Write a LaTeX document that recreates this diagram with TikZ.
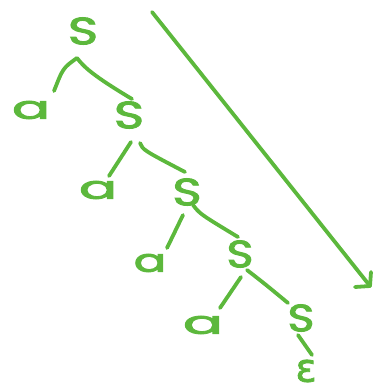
\documentclass[tikz,border=0pt]{standalone}
\usepackage{graphicx}
\usepackage{fontspec}
\setmainfont{Poppins}
\newfontfamily\penfont[FakeBold=2.5]{Poppins}
\newfontfamily\epsfont[FakeBold=2]{DejaVu Sans}
\usetikzlibrary{calc}
\definecolor{pen}{RGB}{92,184,60}
\begin{document}
\begin{tikzpicture}[x=1pt,y=-1pt,
  sym/.style={inner sep=0pt, text=pen, font=\fontsize{38}{38}\penfont},
  asym/.style={inner sep=0pt, text=pen, font=\fontsize{32}{32}\penfont},
  esym/.style={inner sep=0pt, text=pen, font=\fontsize{30}{30}\epsfont},
  ink/.style={draw=pen, line width=3.8pt, line cap=round, line join=round}]
\useasboundingbox (0,0) rectangle (373,389);
% symbols
\node[sym]  (S1) at (83,31)   {\scalebox{1.35}[1]{S}};
\node[asym] (a1) at (31,110)  {\scalebox{1.75}[1]{a}};
\node[sym]  (S2) at (129,115) {\scalebox{1.35}[1]{S}};
\node[asym] (a2) at (98,190)  {\scalebox{1.75}[1]{a}};
\node[sym]  (S3) at (187,192) {\scalebox{1.3}[1]{S}};
\node[asym] (a3) at (150,263) {\scalebox{1.5}[1]{a}};
\node[sym]  (S4) at (240,254) {\scalebox{1.2}[1]{S}};
\node[asym] (a4) at (203,325) {\scalebox{1.85}[1]{a}};
\node[sym]  (S5) at (301,318) {\scalebox{1.2}[1]{S}};
\node[esym] (E)  at (306,371) {\scalebox{1.3}[1.3]{ε}};
% connectors
\draw[ink] ($(S1)+(-29,60)$) .. controls ($(S1)+(-20,37)$) .. ($(S1)+(-6,27)$)
           .. controls ($(S1)+(1,36)$) and ($(S1)+(9,44)$) .. ($(S1)+(49,68)$);
\draw[ink] ($(S2)+(2,27)$) -- ($(S2)+(-20,61)$);
\draw[ink] ($(S2)+(11,28)$) .. controls ($(S2)+(14,35)$) .. ($(S2)+(56,57)$);
\draw[ink] ($(S3)+(-4,23)$) -- ($(S3)+(-20,56)$);
\draw[ink] ($(S3)+(6,13)$) .. controls ($(S3)+(13,22)$) .. ($(S3)+(51,45)$);
\draw[ink] ($(S4)+(1,23)$) -- ($(S4)+(-20,54)$);
\draw[ink] ($(S4)+(7,16)$) .. controls ($(S4)+(25,30)$) .. ($(S4)+(48,49)$);
\draw[ink] ($(S5)+(-3,17)$) -- ($(S5)+(11,37)$);
% long arrow
\coordinate (arrowstart) at (152,12);
\coordinate (arrowtip) at (370,286);
\draw[ink] (arrowstart) -- (arrowtip);
\draw[ink] ($(arrowtip)+(1,-14)$) -- (arrowtip) -- ($(arrowtip)+(-15,1)$);
\end{tikzpicture}
\end{document}
